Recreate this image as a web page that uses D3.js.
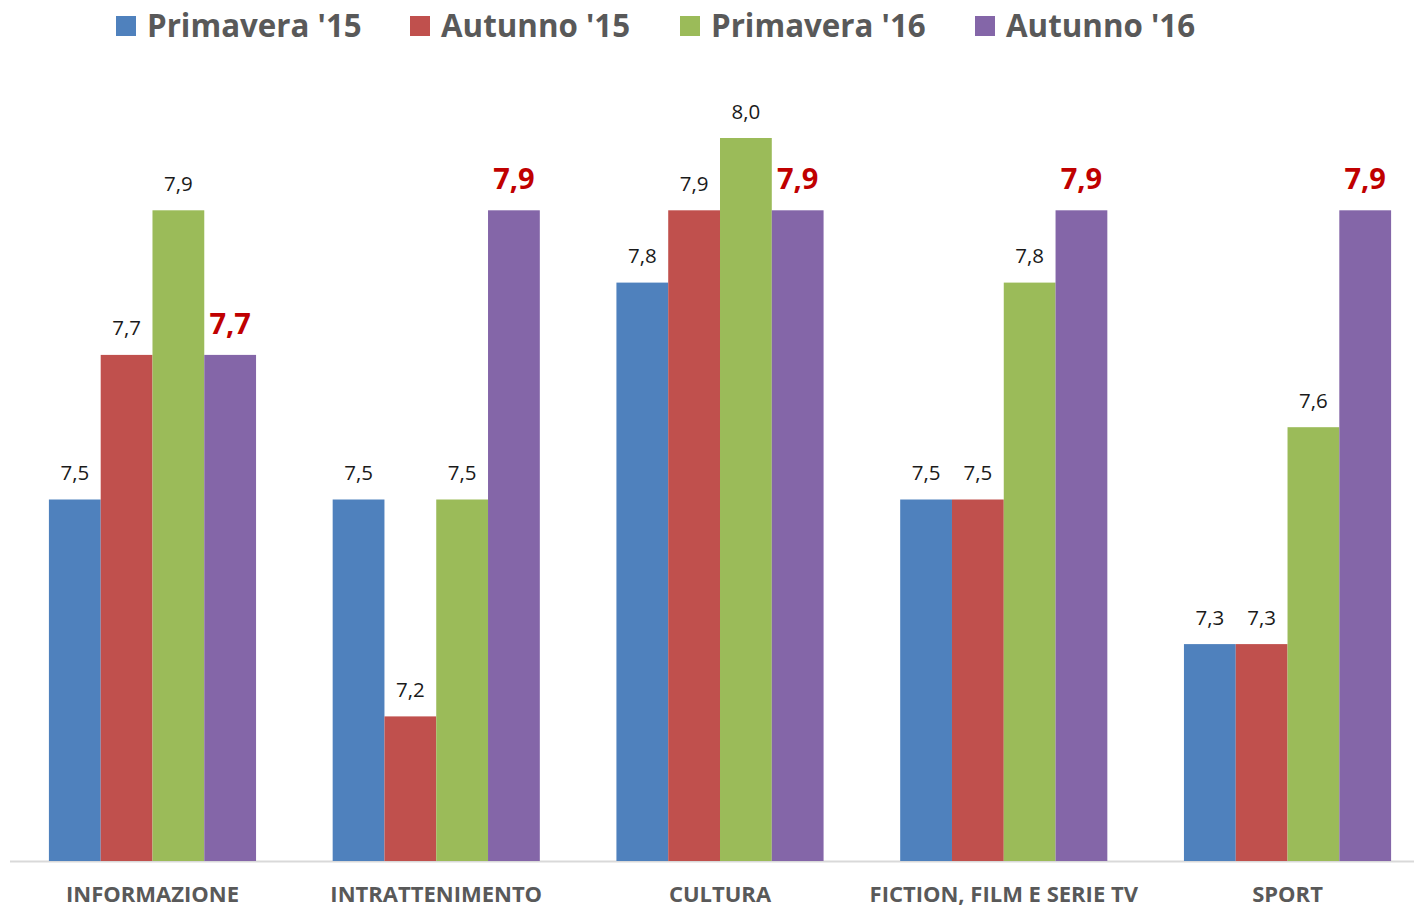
<!DOCTYPE html>
<html><head><meta charset="utf-8">
<script src="https://cdn.jsdelivr.net/npm/d3@7"></script>
<style>body{margin:0;background:#fff}svg{display:block}</style>
</head><body>
<svg id="c" width="1414" height="908"></svg>
<script>
const categories = ["INFORMAZIONE","INTRATTENIMENTO","CULTURA","FICTION, FILM E SERIE TV","SPORT"];
const seriesNames = ["Primavera '15","Autunno '15","Primavera '16","Autunno '16"];
const primavera15 = [7.5,7.5,7.8,7.5,7.3];
const autunno15 = [7.7,7.2,7.9,7.5,7.3];
const primavera16 = [7.9,7.5,8.0,7.8,7.6];
const autunno16 = [7.7,7.9,7.9,7.9,7.9];
const colors = ["#4f81bd","#c0504d","#9bbb59","#8466a8"];
const seriesValues = [primavera15,autunno15,primavera16,autunno16];

const font = "'Open Sans', 'Liberation Sans', sans-serif";
const svg = d3.select("#c");
const baseY = 861;
const y = d3.scaleLinear().domain([7.0,8.0]).range([baseY,138]);
const x0 = d3.scaleBand().domain(categories).range([10.6,1429.4]).paddingInner(0.27).paddingOuter(0.135);
const x1 = d3.scaleBand().domain(seriesNames).range([0,x0.bandwidth()]);

// axis line
svg.append("line").attr("x1",10).attr("x2",1414).attr("y1",baseY+0.5).attr("y2",baseY+0.5)
  .attr("stroke","#d9d9d9").attr("stroke-width",2);

const data = [];
categories.forEach((c,i)=>seriesNames.forEach((s,j)=>data.push({c,s,j,v:seriesValues[j][i]})));

svg.append("g").selectAll("rect").data(data).join("rect")
  .attr("x",d=>x0(d.c)+x1(d.s))
  .attr("width",x1.bandwidth())
  .attr("y",d=>y(d.v))
  .attr("height",d=>baseY-y(d.v))
  .attr("fill",d=>colors[d.j]);

svg.append("g").selectAll("text").data(data).join("text")
  .attr("x",d=>x0(d.c)+x1(d.s)+x1.bandwidth()/2)
  .attr("y",d=>y(d.v)-(d.j===3?21:19.5))
  .attr("text-anchor","middle")
  .attr("font-family",font)
  .attr("font-size",d=>d.j===3?29:20.5)
  .attr("font-weight",d=>d.j===3?"bold":"normal")
  .attr("fill",d=>d.j===3?"#c00000":"#1a1a1a")
  .text(d=>d3.format(".1f")(d.v).replace(".",","));

// category axis labels
const xAxis = d3.axisBottom(x0).tickSize(0).tickPadding(0);
const ax = svg.append("g").attr("transform",`translate(0,${baseY})`).call(xAxis);
ax.select(".domain").remove();
ax.selectAll("text").attr("font-family",font).attr("font-size",22).attr("font-weight","bold")
  .attr("fill","#595959").attr("dy",null).attr("y",41);

// legend
const legX = [116,410,680,975];
const leg = svg.append("g").selectAll("g").data(seriesNames).join("g")
  .attr("transform",(d,i)=>`translate(${legX[i]},0)`);
leg.append("rect").attr("x",0).attr("y",16).attr("width",20).attr("height",20).attr("fill",(d,i)=>colors[i]);
leg.append("text").attr("x",31).attr("y",37).attr("font-family",font).attr("font-size",31.3)
  .attr("font-weight","bold").attr("fill","#595959").text(d=>d);
</script>
</body></html>
